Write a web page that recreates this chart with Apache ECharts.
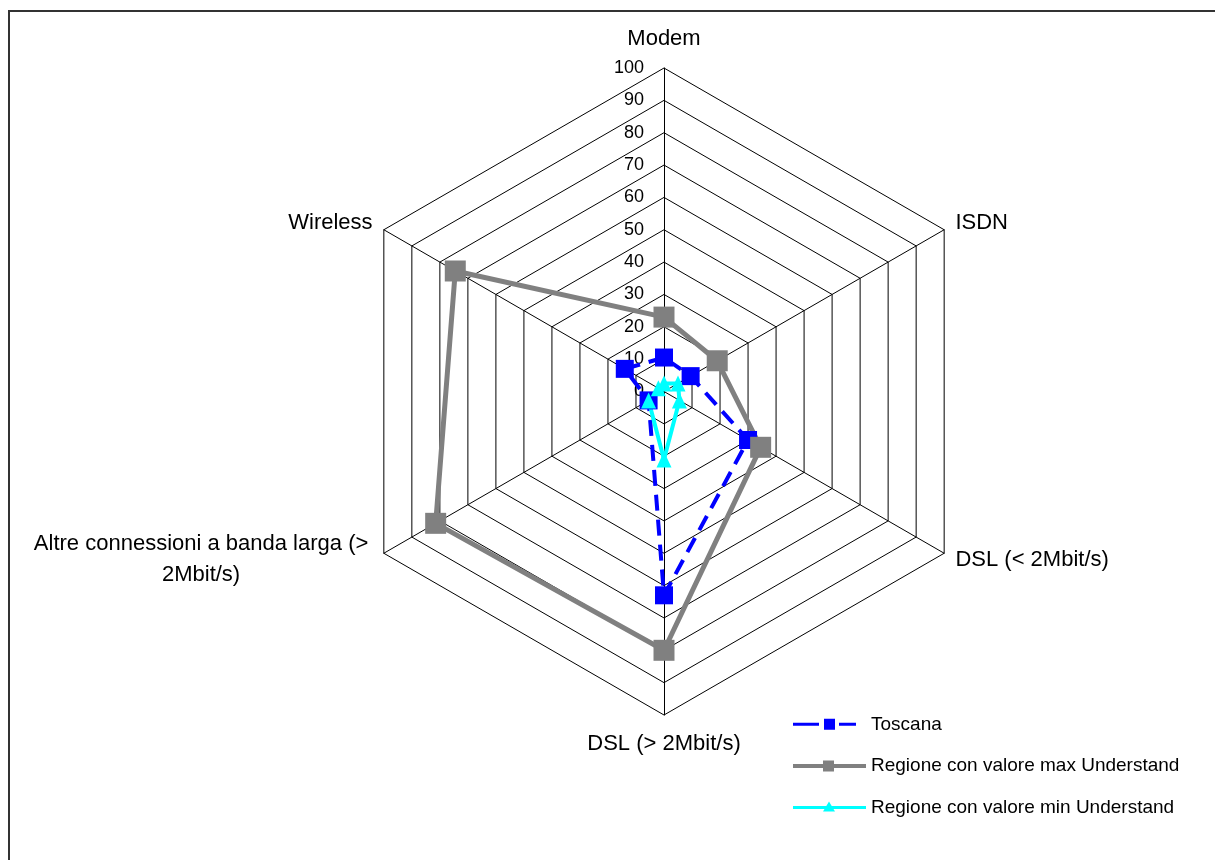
<!DOCTYPE html>
<html>
<head>
<meta charset="utf-8">
<script src="https://cdn.jsdelivr.net/npm/echarts@6/dist/echarts.min.js"></script>
<style>
  html, body { margin: 0; padding: 0; background: #fff; }
  #chart { width: 1215px; height: 860px; }
</style>
</head>
<body>
<div id="chart"></div>
<script>
// Axes, listed counter-clockwise from the top (ECharts radar order)
var categories = [
  'Modem',
  'Wireless',
  'Altre connessioni a banda larga (>\n2Mbit/s)',
  'DSL (> 2Mbit/s)',
  'DSL (< 2Mbit/s)',
  'ISDN'
];
var seriesNames = [
  'Toscana',
  'Regione con valore max Understand',
  'Regione con valore min Understand'
];
var toscana   = [10.5, 14, 5.5, 63, 30, 9.5];
var regionMax = [23, 74.5, 81.5, 80, 34.5, 19];
var regionMin = [2.5, 2, 5.5, 21, 5.5, 5];
var tickValues = [0, 10, 20, 30, 40, 50, 60, 70, 80, 90, 100];

var FONT = '"Liberation Sans", Arial, sans-serif';
var axisMax = tickValues[tickValues.length - 1];
var axisInterval = tickValues[1] - tickValues[0];

var indicators = categories.map(function (name, i) {
  var ind = { name: name, min: tickValues[0], max: axisMax };
  if (i === 0) {
    ind.axisLabel = {
      show: true, color: '#000', fontSize: 18, fontFamily: FONT, margin: 20
    };
    ind.nameGap = 18;
  }
  if (name === 'DSL (> 2Mbit/s)') ind.nameGap = 18;
  return ind;
});

var chart = echarts.init(document.getElementById('chart'), null, { renderer: 'canvas' });

chart.setOption({
  backgroundColor: '#fff',
  animation: false,
  graphic: [{
    type: 'polyline',
    shape: { points: [[9, 860], [9, 11], [1215, 11]] },
    style: { stroke: '#333', lineWidth: 2, fill: null },
    silent: true
  }],
  legend: {
    orient: 'vertical',
    left: 788,
    top: 709,
    itemWidth: 73,
    itemHeight: 12,
    itemGap: 20.5,
    selectedMode: false,
    textStyle: { color: '#000', fontSize: 19, fontFamily: FONT, lineHeight: 21 },
    data: [
      { name: seriesNames[0], icon: 'path://M0,4.5h26v3h-26z M31,0.5h11v11h-11z M46,4.5h17v3h-17z M73,12' },
      { name: seriesNames[1], icon: 'path://M0,4h73v4h-73z M30,0.5h11v11h-11z' },
      { name: seriesNames[2], icon: 'path://M0,4.5h73v3h-73z M36,0L42,10h-12z M36,12' }
    ]
  },
  radar: {
    center: [664, 391.5],
    radius: 323.5,
    startAngle: 90,
    splitNumber: axisMax / axisInterval,
    shape: 'polygon',
    nameGap: 13,
    axisName: {
      color: '#000',
      fontSize: 22,
      fontFamily: FONT,
      formatter: function (name) {
        if (name.indexOf('\n') >= 0) {
          return name.split('\n').map(function (s) { return '{w|' + s + '}'; }).join('\n');
        }
        return name;
      },
      rich: {
        w: { width: 343, align: 'center', fontSize: 22, fontFamily: FONT, color: '#000', lineHeight: 31 }
      }
    },
    axisLine: { show: true, lineStyle: { color: '#000', width: 1 } },
    axisTick: { show: false },
    axisLabel: { show: false },
    splitLine: { show: true, lineStyle: { color: '#000', width: 1 } },
    splitArea: { show: false },
    indicator: indicators
  },
  series: [
    {
      type: 'radar',
      name: seriesNames[0],
      symbol: 'rect',
      symbolSize: 18,
      itemStyle: { color: '#0000ff' },
      lineStyle: { color: '#0000ff', width: 4, type: [16, 9] },
      data: [{ name: seriesNames[0], value: toscana }]
    },
    {
      type: 'radar',
      name: seriesNames[1],
      symbol: 'rect',
      symbolSize: 21,
      itemStyle: { color: '#808080' },
      lineStyle: { color: '#808080', width: 5, type: 'solid' },
      data: [{ name: seriesNames[1], value: regionMax }]
    },
    {
      type: 'radar',
      name: seriesNames[2],
      symbol: 'triangle',
      symbolSize: [15, 16],
      itemStyle: { color: '#00ffff' },
      lineStyle: { color: '#00ffff', width: 4, type: 'solid' },
      data: [{ name: seriesNames[2], value: regionMin }]
    }
  ]
});
</script>
</body>
</html>
